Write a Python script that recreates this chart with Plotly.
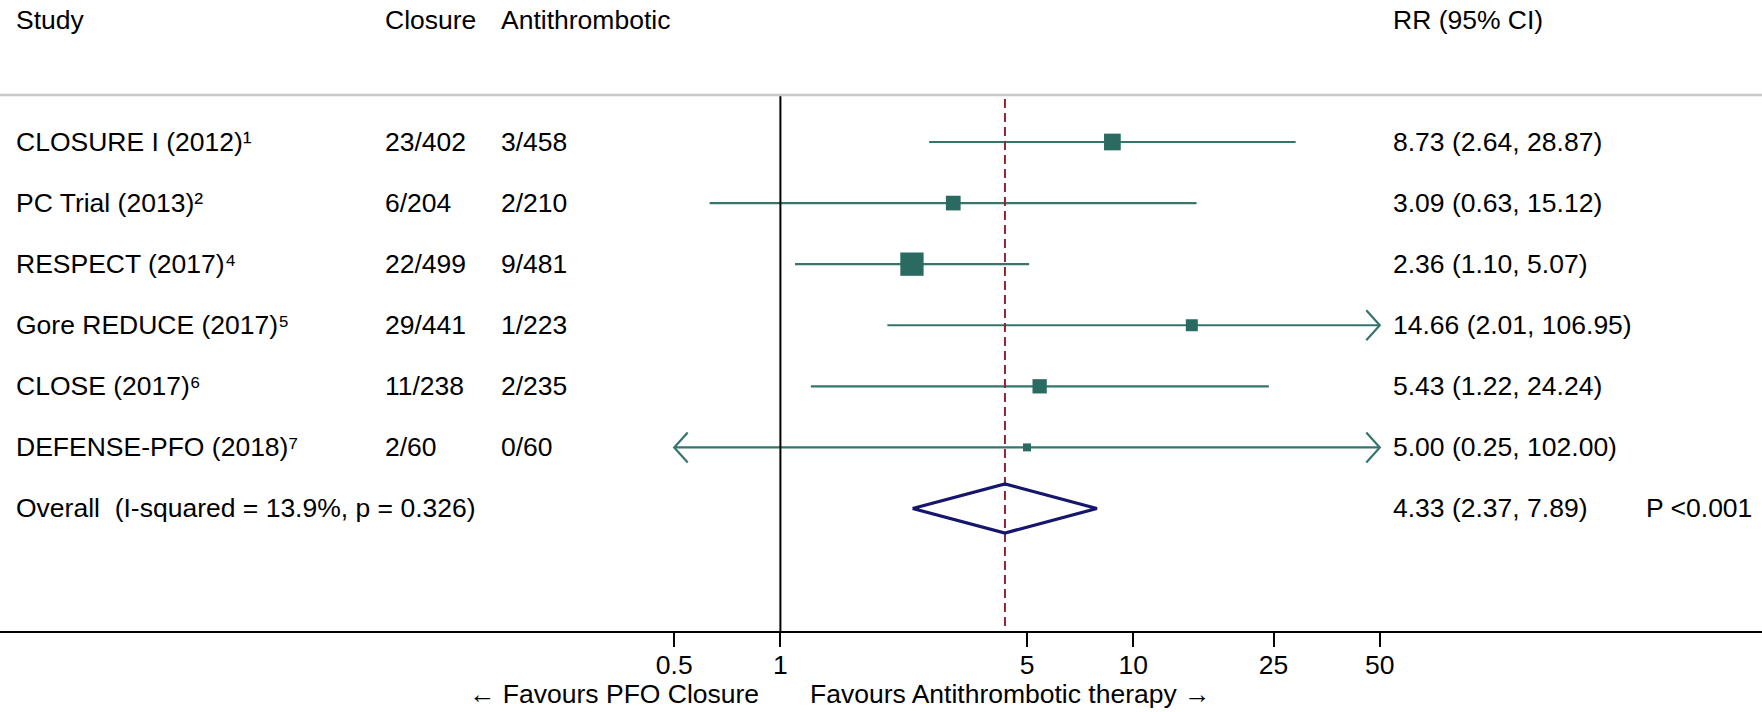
import plotly.graph_objects as go

# ---- data -------------------------------------------------------------
studies = ["CLOSURE I (2012)", "PC Trial (2013)", "RESPECT (2017)",
           "Gore REDUCE (2017)", "CLOSE (2017)", "DEFENSE-PFO (2018)"]
refs = ["1", "2", "4", "5", "6", "7"]
closure_events = ["23/402", "6/204", "22/499", "29/441", "11/238", "2/60"]
antithrombotic_events = ["3/458", "2/210", "9/481", "1/223", "2/235", "0/60"]
rr = [8.73, 3.09, 2.36, 14.66, 5.43, 5.00]
ci_low = [2.64, 0.63, 1.10, 2.01, 1.22, 0.25]
ci_high = [28.87, 15.12, 5.07, 106.95, 24.24, 102.00]
weights = [19.2, 14.9, 37.4, 9.9, 14.1, 4.4]   # % weight, drives box area

overall_rr = 4.33
overall_low = 2.37
overall_high = 7.89
i_squared = 13.9
het_p = 0.326
overall_p_text = "P <0.001"

tick_values = [0.5, 1, 5, 10, 25, 50]
tick_labels = ["0.5", "1", "5", "10", "25", "50"]

# ---- layout geometry (pixels) -----------------------------------------
W, H = 1762, 712
AXIS_Y_PX = 631          # x-axis line
ROW0_PX = 142            # first study row
ROW_STEP = 61.08         # spacing between rows
X_ONE_PX = 780.4         # where RR = 1 sits
PX_PER_DECADE = 352.8

x_range = [(0 - X_ONE_PX) / PX_PER_DECADE, (W - X_ONE_PX) / PX_PER_DECADE]
y_range = [(AXIS_Y_PX - ROW0_PX) / ROW_STEP, -ROW0_PX / ROW_STEP]

def row_of_px(py):
    return (py - ROW0_PX) / ROW_STEP

def paper_x(px):
    return px / W

def paper_y(py):
    return (AXIS_Y_PX - py) / AXIS_Y_PX

HEADER_ROW = -2
SEP_ROW = row_of_px(95)
OVERALL_ROW = len(studies)
BOTTOM_ROW = y_range[0]

FONT = "Liberation Sans, Arial, sans-serif"
FS = 26.5
TEAL = "#2b6a61"
TEAL_LINE = "#35756c"
NAVY = "#16166c"
RED = "#8e2633"

SUPERSCRIPT = str.maketrans("0123456789", "\u2070\u00b9\u00b2\u00b3\u2074\u2075\u2076\u2077\u2078\u2079")

disp_lo, disp_hi = min(tick_values), max(tick_values)

fig = go.Figure()

# confidence-interval lines, clipped to the displayed range
cx, cy = [], []
for i, (lo, hi) in enumerate(zip(ci_low, ci_high)):
    cx += [max(lo, disp_lo), min(hi, disp_hi), None]
    cy += [i, i, None]
fig.add_trace(go.Scatter(x=cx, y=cy, mode="lines",
                         line=dict(color=TEAL_LINE, width=2.2),
                         hoverinfo="skip", showlegend=False))

# open arrowheads where an interval runs past the axis
ARM_DEC = 13.5 / PX_PER_DECADE
ARM_ROW = 15 / ROW_STEP
ax_, ay_ = [], []
for i, (lo, hi) in enumerate(zip(ci_low, ci_high)):
    if lo < disp_lo:
        tip = disp_lo
        arm = tip * 10 ** ARM_DEC
        ax_ += [arm, tip, arm, None]
        ay_ += [i - ARM_ROW, i, i + ARM_ROW, None]
    if hi > disp_hi:
        tip = disp_hi
        arm = tip / 10 ** ARM_DEC
        ax_ += [arm, tip, arm, None]
        ay_ += [i - ARM_ROW, i, i + ARM_ROW, None]
fig.add_trace(go.Scatter(x=ax_, y=ay_, mode="lines",
                         line=dict(color=TEAL_LINE, width=2.2),
                         hoverinfo="skip", showlegend=False))

# line of no effect
fig.add_trace(go.Scatter(x=[1, 1], y=[SEP_ROW, BOTTOM_ROW], mode="lines",
                         line=dict(color="black", width=2),
                         hoverinfo="skip", showlegend=False))

# pooled estimate reference line
fig.add_trace(go.Scatter(x=[overall_rr, overall_rr], y=[row_of_px(99), BOTTOM_ROW],
                         mode="lines",
                         line=dict(color=RED, width=2, dash="9px,5px"),
                         hoverinfo="skip", showlegend=False))

# weighted boxes
box_scale = 3.81
fig.add_trace(go.Scatter(
    x=rr, y=list(range(len(rr))), mode="markers", opacity=1,
    marker=dict(symbol="square", color=TEAL, opacity=1,
                size=[box_scale * w ** 0.5 for w in weights],
                line=dict(width=0)),
    hoverinfo="skip", showlegend=False))

# pooled diamond
half_h = 24.5 / ROW_STEP
fig.add_trace(go.Scatter(
    x=[overall_low, overall_rr, overall_high, overall_rr, overall_low],
    y=[OVERALL_ROW, OVERALL_ROW - half_h, OVERALL_ROW, OVERALL_ROW + half_h, OVERALL_ROW],
    mode="lines", line=dict(color=NAVY, width=3.2),
    hoverinfo="skip", showlegend=False))

# ---- text columns -----------------------------------------------------
COL_STUDY = 14
COL_CLOSURE = 383
COL_ANTI = 499
COL_RR = 1391
COL_P = 1644

ann = []

def text(px, row, s, anchor="left"):
    ann.append(dict(x=paper_x(px), xref="paper", y=row, yref="y", text=s,
                    showarrow=False, xanchor=anchor, yanchor="middle",
                    font=dict(family=FONT, size=FS, color="black")))

text(COL_STUDY, HEADER_ROW, "Study")
text(COL_CLOSURE, HEADER_ROW, "Closure")
text(COL_ANTI, HEADER_ROW, "Antithrombotic")
text(COL_RR, HEADER_ROW, "RR (95% CI)")

for i, name in enumerate(studies):
    text(COL_STUDY, i, name + refs[i].translate(SUPERSCRIPT))
    text(COL_CLOSURE, i, closure_events[i])
    text(COL_ANTI, i, antithrombotic_events[i])
    text(COL_RR, i, f"{rr[i]:.2f} ({ci_low[i]:.2f}, {ci_high[i]:.2f})")

text(COL_STUDY, OVERALL_ROW,
     f"Overall\u00a0\u00a0(I-squared = {i_squared}%, p = {het_p})")
text(COL_RR, OVERALL_ROW,
     f"{overall_rr:.2f} ({overall_low:.2f}, {overall_high:.2f})")
text(COL_P, OVERALL_ROW, overall_p_text)

# axis caption on both sides of the no-effect line
fav_y = paper_y(694)
for px, s, anchor in [(761, "\u2190 Favours PFO Closure", "right"),
                      (808, "Favours Antithrombotic therapy \u2192", "left")]:
    ann.append(dict(x=paper_x(px), xref="paper", y=fav_y, yref="paper", text=s,
                    showarrow=False, xanchor=anchor, yanchor="middle",
                    font=dict(family=FONT, size=FS, color="black")))

fig.update_layout(
    width=W, height=H,
    margin=dict(l=0, r=0, t=0, b=H - AXIS_Y_PX, pad=0),
    paper_bgcolor="white", plot_bgcolor="white",
    annotations=ann,
    shapes=[dict(type="line", xref="paper", x0=0, x1=1, yref="y",
                 y0=SEP_ROW, y1=SEP_ROW,
                 line=dict(color="#c8c8c8", width=2.5))],
    xaxis=dict(type="log", range=x_range, showgrid=False, zeroline=False,
               showline=True, linecolor="black", linewidth=2,
               ticks="outside", ticklen=14, tickwidth=2, tickcolor="black",
               tickvals=tick_values, ticktext=tick_labels,
               tickfont=dict(family=FONT, size=FS, color="black"),
               ticklabelstandoff=-5,
               fixedrange=True),
    yaxis=dict(range=y_range, visible=False, showgrid=False, zeroline=False,
               fixedrange=True),
)

fig.write_html("out.html")
